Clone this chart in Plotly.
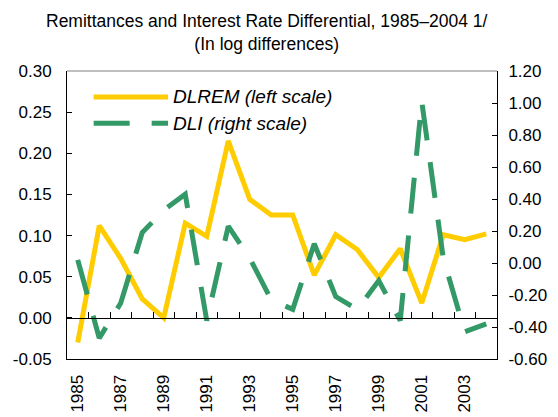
import plotly.graph_objects as go

# data
YEARS = ["1985", "1986", "1987", "1988", "1989", "1990", "1991", "1992", "1993", "1994",
         "1995", "1996", "1997", "1998", "1999", "2000", "2001", "2002", "2003", "2004"]
DLREM = [-0.030, 0.112, 0.072, 0.023, 0.000, 0.115, 0.099, 0.215, 0.144, 0.125,
         0.125, 0.052, 0.101, 0.083, 0.049, 0.084, 0.018, 0.101, 0.095, 0.102]
DLI = [0.02, -0.47, -0.25, 0.19, 0.33, 0.43, -0.36, 0.23, 0.03, -0.23,
       -0.29, 0.12, -0.21, -0.29, -0.11, -0.36, 1.01, 0.03, -0.43, -0.38]

X_TICKS = ["1985", "1987", "1989", "1991", "1993", "1995", "1997", "1999", "2001", "2003"]
LEFT_TICKS = [-0.05, 0.0, 0.05, 0.10, 0.15, 0.20, 0.25, 0.30]
LEFT_TEXT = ["-0.05", "0.00", "0.05", "0.10", "0.15", "0.20", "0.25", "0.30"]
RIGHT_TICKS = [-0.6, -0.4, -0.2, 0.0, 0.2, 0.4, 0.6, 0.8, 1.0, 1.2]
RIGHT_TEXT = ["-0.60", "-0.40", "-0.20", "0.00", "0.20", "0.40", "0.60", "0.80", "1.00", "1.20"]

NAMES = ["DLREM (left scale)", "DLI (right scale)"]
TITLE = "Remittances and Interest Rate Differential, 1985\u20132004 1/<br>(In log differences)"
YELLOW = "#FFCC00"
GREEN = "#339966"
FONT = "Arial, Liberation Sans, sans-serif"
LEFT_RANGE = [-0.05, 0.30]
RIGHT_RANGE = [-0.6, 1.2]
DASH = "36px,22px"

fig = go.Figure()
fig.add_trace(go.Scatter(
    x=YEARS, y=DLREM, mode="lines", name=NAMES[0],
    line=dict(color=YELLOW, width=5), xaxis="x", yaxis="y",
))
fig.add_trace(go.Scatter(
    x=YEARS, y=DLI, mode="lines", name=NAMES[1],
    line=dict(color=GREEN, width=5, dash=DASH), xaxis="x2", yaxis="y2",
))

# zero line of the left scale carries the category ticks
zero_pos = (0 - LEFT_RANGE[0]) / (LEFT_RANGE[1] - LEFT_RANGE[0])

# page body adds an 8px margin, so the figure is 8px smaller than the window
fig.update_layout(
    width=550, height=409,
    margin=dict(l=59, r=61, t=63, b=58, autoexpand=False),
    paper_bgcolor="white", plot_bgcolor="white",
    showlegend=False,
    font=dict(family=FONT, size=17, color="black"),
    xaxis=dict(
        type="category", range=[-0.5, 19.5], categoryorder="array", categoryarray=YEARS,
        tickmode="array", tickvals=X_TICKS, ticktext=X_TICKS, tickangle=-90,
        ticks="", ticklabelstandoff=8, showline=True, linecolor="black", linewidth=1,
        showgrid=False, zeroline=False, domain=[0, 1], automargin=False,
    ),
    xaxis2=dict(
        type="category", range=[-0.5, 19.5], categoryorder="array", categoryarray=YEARS,
        overlaying="x", anchor="free", position=zero_pos, side="bottom",
        tickmode="linear", dtick=1, tickson="boundaries", ticks="inside", ticklen=6,
        tickcolor="black", showticklabels=False, showline=True, linecolor="black",
        linewidth=1, showgrid=False, zeroline=False, automargin=False,
    ),
    yaxis=dict(
        range=LEFT_RANGE, tickmode="array", tickvals=LEFT_TICKS, ticktext=LEFT_TEXT,
        ticks="inside", ticklen=5, tickcolor="black", ticklabelstandoff=11,
        showline=True, linecolor="black", linewidth=1, showgrid=False, zeroline=False,
        domain=[0, 1], automargin=False,
    ),
    yaxis2=dict(
        range=RIGHT_RANGE, tickmode="array", tickvals=RIGHT_TICKS, ticktext=RIGHT_TEXT,
        overlaying="y", side="right", anchor="x",
        ticks="inside", ticklen=5, tickcolor="black", ticklabelstandoff=7,
        showline=True, linecolor="black", linewidth=1, showgrid=False, zeroline=False,
        automargin=False,
    ),
)

# chart title, two centred lines above the plot area
fig.add_annotation(text=TITLE, xref="paper", yref="paper", x=0.465, y=1.215,
                   xanchor="center", yanchor="top", showarrow=False,
                   font=dict(family=FONT, size=17.5, color="black"))

# top border of the plot area (gray)
fig.add_shape(type="line", xref="x domain", yref="y domain", x0=0, x1=1, y0=1, y1=1,
              line=dict(color="#808080", width=1))

# hand-drawn legend to get the long sample lines
legend_rows = [(0.910, YELLOW, "solid"), (0.819, GREEN, DASH)]
for name, (ly, color, dash) in zip(NAMES, legend_rows):
    fig.add_shape(type="line", xref="x domain", yref="y domain",
                  x0=0.062, x1=0.235, y0=ly, y1=ly,
                  line=dict(color=color, width=5, dash=dash))
    fig.add_annotation(text=name, xref="x domain", yref="y domain", x=0.243, y=ly,
                       xanchor="left", yanchor="middle", showarrow=False,
                       font=dict(family=FONT, size=19, color="black", style="italic"))

fig.write_html("out.html")
